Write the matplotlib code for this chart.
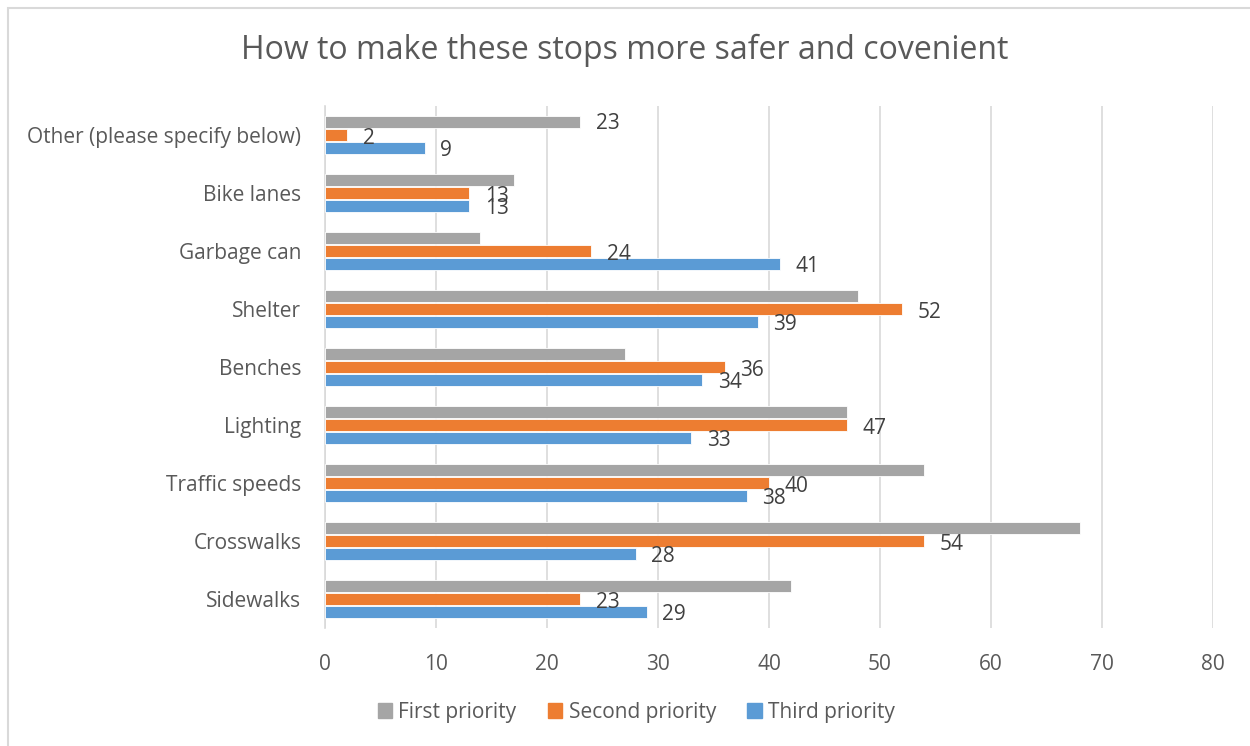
import matplotlib
matplotlib.use("Agg")
import matplotlib.pyplot as plt
import numpy as np
from matplotlib.patches import Rectangle

categories = ["Sidewalks", "Crosswalks", "Traffic speeds", "Lighting", "Benches",
              "Shelter", "Garbage can", "Bike lanes", "Other (please specify below)"]
first = [42, 68, 54, 47, 27, 48, 14, 17, 23]
second = [23, 54, 40, 47, 36, 52, 24, 13, 2]
third = [29, 28, 38, 33, 34, 39, 41, 13, 9]
series_names = ["First priority", "Second priority", "Third priority"]
colors = ["#A5A5A5", "#ED7D31", "#5B9BD5"]
title = "How to make these stops more safer and covenient"

plt.rcParams['font.family'] = ['Open Sans', 'DejaVu Sans']
txt = "#595959"

fig = plt.figure(figsize=(12.5, 7.46), dpi=100)
top_px, bot_px = 106, 628
ax = fig.add_axes([0.26, 1 - bot_px / 746, 0.7104, (bot_px - top_px) / 746])

y = np.arange(len(categories))
h = 0.2
gap = 0.22
for vals, off, c in [(first, gap, colors[0]), (second, 0, colors[1]), (third, -gap, colors[2])]:
    ax.barh(y + off, vals, height=h, color=c, edgecolor="white", linewidth=0.6, zorder=3)

lab_fs = 15
for i, v in enumerate(second):
    ax.text(v + 1.4, y[i] - 0.06, str(v), fontsize=lab_fs, color="#404040", va="center", ha="left", zorder=4)
for i, v in enumerate(third):
    ax.text(v + 1.4, y[i] - gap - 0.05, str(v), fontsize=lab_fs, color="#404040", va="center", ha="left", zorder=4)
ax.text(first[-1] + 1.4, y[-1] + gap - 0.03, str(first[-1]), fontsize=lab_fs, color="#404040", va="center", ha="left", zorder=4)

ax.set_xlim(0, 80)
ax.set_ylim(-0.5, len(categories) - 0.5)
ax.set_xticks(np.arange(0, 81, 10))
ax.set_yticks(y)
ax.set_yticklabels(categories)
ax.tick_params(axis="both", length=0, labelsize=15, labelcolor=txt)
ax.tick_params(axis="x", pad=19)
ax.tick_params(axis="y", pad=17)
ax.grid(axis="x", color="#D9D9D9", linewidth=1.2, zorder=0)
for s in ["top", "right", "bottom"]:
    ax.spines[s].set_visible(False)
ax.spines["left"].set_color("#D9D9D9")
ax.spines["left"].set_linewidth(1.2)

fig.text(0.5, 0.932, title, ha="center", va="center", fontsize=23, color=txt)

handles = [Rectangle((0, 0), 1, 1, color=c) for c in colors]
fig.legend(handles, series_names, loc="center", bbox_to_anchor=(0.509, 0.045), ncol=3,
           frameon=False, fontsize=15, labelcolor=txt, handlelength=0.7, handleheight=0.7,
           handletextpad=0.3, columnspacing=1.5)

fig.patches.append(Rectangle((8 / 1250, -0.01), 1.1, 1 - 8 / 746 + 0.01, transform=fig.transFigure,
                             fill=False, edgecolor="#D9D9D9", linewidth=1.5))

fig.savefig("out.png", dpi=100)
